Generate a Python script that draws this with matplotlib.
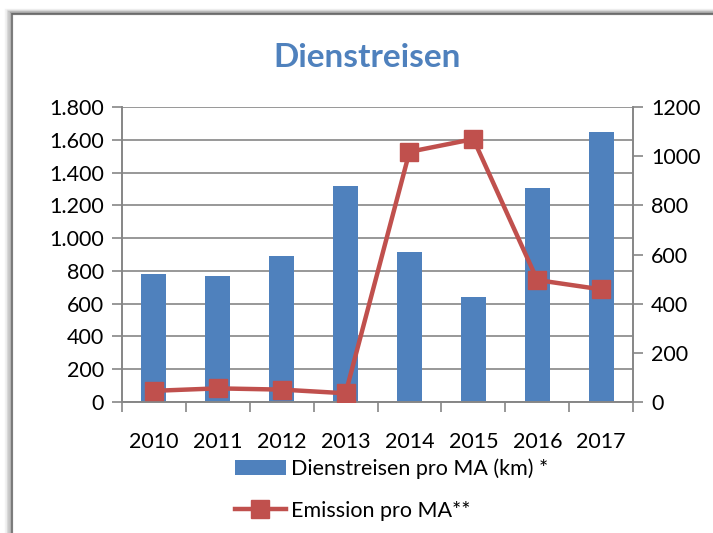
import matplotlib.pyplot as plt
from matplotlib.patches import Rectangle
from matplotlib.ticker import FuncFormatter

# Daten ----------
jahre = ['2010', '2011', '2012', '2013', '2014', '2015', '2016', '2017']
km_pro_ma = [783, 771, 889, 1316, 915, 639, 1308, 1646]
emission_pro_ma = [45, 55, 50, 35, 1018, 1070, 496, 458]

blau = '#4F81BD'
rot = '#C0504D'
grau = '#868686'
fs = 15.5

plt.rcParams['font.family'] = ['Lato', 'DejaVu Sans']

fig = plt.figure(figsize=(7.13, 5.33), dpi=100)

# Rahmen mit Schatten ----------
for i, a in enumerate([0.05, 0.08, 0.12, 0.18]):
    off = (4 - i) * 0.002
    fig.add_artist(Rectangle((0.017 - off, -0.05), 1.2, 1.023 + off,
                             transform=fig.transFigure, facecolor='none',
                             edgecolor=(0, 0, 0, a), linewidth=2.5))
fig.add_artist(Rectangle((0.017, -0.05), 1.2, 1.023, transform=fig.transFigure,
                         facecolor='white', edgecolor=grau, linewidth=1.2, zorder=-1))

ax1 = fig.add_axes([0.171, 0.246, 0.717, 0.553])
ax2 = ax1.twinx()

x = range(len(jahre))
ax1.bar(x, km_pro_ma, width=0.39, color=blau, zorder=2, label='Dienstreisen pro MA (km) *')
ax2.plot(x, emission_pro_ma, color=rot, linewidth=3.2, marker='s', markersize=13,
         zorder=3, label='Emission pro MA**')

ax1.set_xlim(-0.5, 7.5)
ax1.set_ylim(0, 1800)
ax1.set_yticks(range(0, 1801, 200))
ax1.yaxis.set_major_formatter(FuncFormatter(lambda v, p: f'{int(v):,}'.replace(',', '.')))
ax2.set_ylim(0, 1200)
ax2.set_yticks(range(0, 1201, 200))

ax1.set_xticks([i - 0.5 for i in range(9)])
ax1.set_xticklabels([])
ax1.set_xticks(list(x), minor=True)
ax1.set_xticklabels(jahre, minor=True, fontsize=fs)
ax1.tick_params(axis='x', which='minor', length=0, pad=22)
ax1.tick_params(axis='x', which='major', length=7, width=1.2, color=grau)
ax1.tick_params(axis='y', length=7, width=1.2, color=grau, labelsize=fs, pad=6)
ax2.tick_params(axis='y', length=7, width=1.2, color=grau, labelsize=fs, pad=6)

ax1.grid(axis='y', color=grau, linewidth=1.2, zorder=0)
ax1.set_axisbelow(True)
for a in (ax1, ax2):
    a.spines['top'].set_visible(False)
    for s in ('left', 'right', 'bottom'):
        a.spines[s].set_color(grau)
        a.spines[s].set_linewidth(1.2)
ax1.set_zorder(ax2.get_zorder() - 1)
ax1.patch.set_visible(True)
ax2.patch.set_visible(False)

fig.text(0.515, 0.893, 'Dienstreisen', ha='center', va='center', fontsize=24,
         fontweight='bold', color=blau)

h1, l1 = ax1.get_legend_handles_labels()
h2, l2 = ax2.get_legend_handles_labels()
fig.legend(h1 + h2, l1 + l2, loc='upper left', bbox_to_anchor=(0.314, 0.16),
           frameon=False, fontsize=fs, handlelength=2.4, handletextpad=0.2,
           labelspacing=1.0, borderpad=0)

fig.savefig('out.png', dpi=100)
